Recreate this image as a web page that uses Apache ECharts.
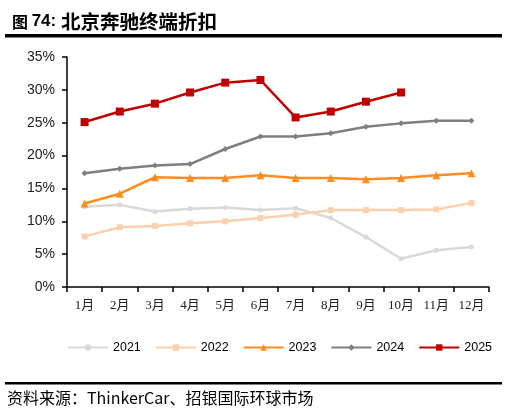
<!DOCTYPE html>
<html>
<head>
<meta charset="utf-8">
<script src="https://cdn.jsdelivr.net/npm/echarts@6/dist/echarts.min.js"></script>
<style>
  html, body { margin: 0; padding: 0; background: #fff; }
  #main { width: 513px; height: 417px; }
</style>
</head>
<body>
<div id="main"></div>
<script>
const months = ['1月', '2月', '3月', '4月', '5月', '6月', '7月', '8月', '9月', '10月', '11月', '12月'];
const y2021 = [12.2, 12.5, 11.5, 11.9, 12.1, 11.7, 12.0, 10.5, 7.6, 4.3, 5.6, 6.1];
const y2022 = [7.7, 9.1, 9.3, 9.7, 10.0, 10.5, 11.0, 11.7, 11.7, 11.7, 11.8, 12.8];
const y2023 = [12.7, 14.2, 16.7, 16.6, 16.6, 17.0, 16.6, 16.6, 16.4, 16.6, 17.0, 17.3];
const y2024 = [17.3, 18.0, 18.5, 18.7, 21.0, 22.9, 22.9, 23.4, 24.4, 24.9, 25.3, 25.3];
const y2025 = [25.1, 26.7, 27.9, 29.6, 31.1, 31.5, 25.8, 26.7, 28.2, 29.6];

function makeSeries(name, data, color, symbol, size) {
    return {
        name: name,
        type: 'line',
        data: data,
        symbol: symbol,
        symbolSize: size,
        lineStyle: { color: color, width: 2.5 },
        itemStyle: { color: color },
        animation: false
    };
}

let chartDom = document.getElementById('main');
let myChart = echarts.init(chartDom);

let option = {
    animation: false,
    title: {
        text: '{a|图 }{b|74: }{c|北京奔驰终端折扣}',
        left: 7,
        top: 7,
        textStyle: {
            rich: {
                a: { fontSize: 16, fontWeight: 'bold', color: '#000', fontFamily: 'Noto Sans CJK SC' },
                b: { fontSize: 17, fontWeight: 'bold', color: '#000', fontFamily: 'Liberation Sans' },
                c: { fontSize: 19.5, fontWeight: 'bold', color: '#000', fontFamily: 'Noto Sans CJK SC' }
            }
        }
    },
    grid: { left: 67, right: 24, top: 57, bottom: 130 },
    legend: {
        bottom: 58,
        left: 62,
        itemWidth: 40,
        itemHeight: 8,
        itemGap: 14,
        textStyle: { fontSize: 12.5, color: '#000', fontFamily: 'Liberation Sans' },
        data: ['2021', '2022', '2023', '2024', '2025']
    },
    xAxis: {
        type: 'category',
        data: months,
        boundaryGap: true,
        axisLine: { lineStyle: { color: '#000', width: 1.5 } },
        axisTick: { show: true, inside: false, length: 5, lineStyle: { color: '#000', width: 1.5 } },
        axisLabel: { color: '#222', fontSize: 13, margin: 12, fontFamily: 'Liberation Serif, Noto Sans CJK SC' }
    },
    yAxis: {
        type: 'value',
        min: 0,
        max: 35,
        interval: 5,
        splitLine: { show: false },
        axisLine: { show: true, lineStyle: { color: '#000', width: 1.5 } },
        axisTick: { show: true, length: 5, lineStyle: { color: '#000', width: 1.5 } },
        axisLabel: { formatter: '{value}%', color: '#222', fontSize: 14, margin: 12, fontFamily: 'Liberation Sans' }
    },
    series: [
        makeSeries('2021', y2021, '#d9d9d9', 'circle', 5),
        makeSeries('2022', y2022, '#fcd0ad', 'rect', 6),
        makeSeries('2023', y2023, '#ff8c1f', 'triangle', 8),
        makeSeries('2024', y2024, '#7f7f7f', 'diamond', 6),
        makeSeries('2025', y2025, '#c00000', 'rect', 8)
    ],
    graphic: [
        { type: 'rect', shape: { x: 5, y: 34, width: 497, height: 3.5 }, style: { fill: '#000' } },
        { type: 'rect', shape: { x: 5, y: 382, width: 497, height: 2.5 }, style: { fill: '#000' } },
        {
            type: 'text', left: 7, top: 390,
            style: { text: '资料来源：ThinkerCar、招银国际环球市场', fontSize: 16, fill: '#000', fontFamily: 'Noto Sans CJK SC' }
        }
    ]
};

option && myChart.setOption(option);
</script>
</body>
</html>
